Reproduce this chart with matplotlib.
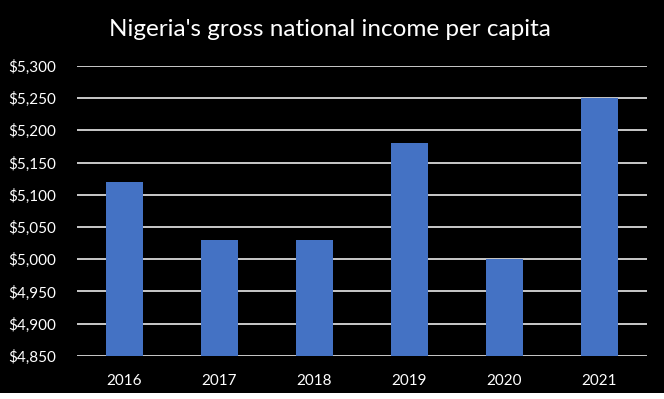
import matplotlib.pyplot as plt
from matplotlib.patches import Rectangle
from matplotlib.ticker import FuncFormatter

# datos
anios = ["2016", "2017", "2018", "2019", "2020", "2021"]
ingreso = [5120, 5030, 5030, 5180, 5000, 5250]
titulo = "Nigeria's gross national income per capita"

plt.rcParams["font.family"] = ["Lato", "DejaVu Sans"]

fig = plt.figure(figsize=(6.64, 3.99), dpi=100, facecolor="black")
ax = fig.add_axes([0.116, 0.108, 0.858, 0.727])
ax.set_facecolor("black")

x = range(len(anios))
ax.bar(x, ingreso, width=0.39, color="#4472C4", zorder=3)

ax.set_ylim(4850, 5300)
ax.set_xlim(-0.5, len(anios) - 0.5)
ax.set_yticks(range(4850, 5301, 50))
ax.yaxis.set_major_formatter(FuncFormatter(lambda v, p: f"${v:,.0f}"))
ax.set_xticks(list(x))
ax.set_xticklabels(anios)

ax.grid(True, axis="y", color="#d9d9d9", linewidth=1.3, zorder=0)
for s in ax.spines.values():
    s.set_visible(False)
ax.tick_params(axis="both", length=0, colors="white", labelsize=11)
ax.tick_params(axis="y", pad=15)
ax.tick_params(axis="x", pad=13)

fig.text(0.497, 0.925, titulo, color="white", fontsize=17.5, ha="center", va="center")

# franja blanca inferior del recorte original
fig.add_artist(Rectangle((0, 0), 1, 0.015, transform=fig.transFigure,
                         facecolor="white", edgecolor="none"))

fig.savefig("out.png", dpi=100, facecolor="black")
